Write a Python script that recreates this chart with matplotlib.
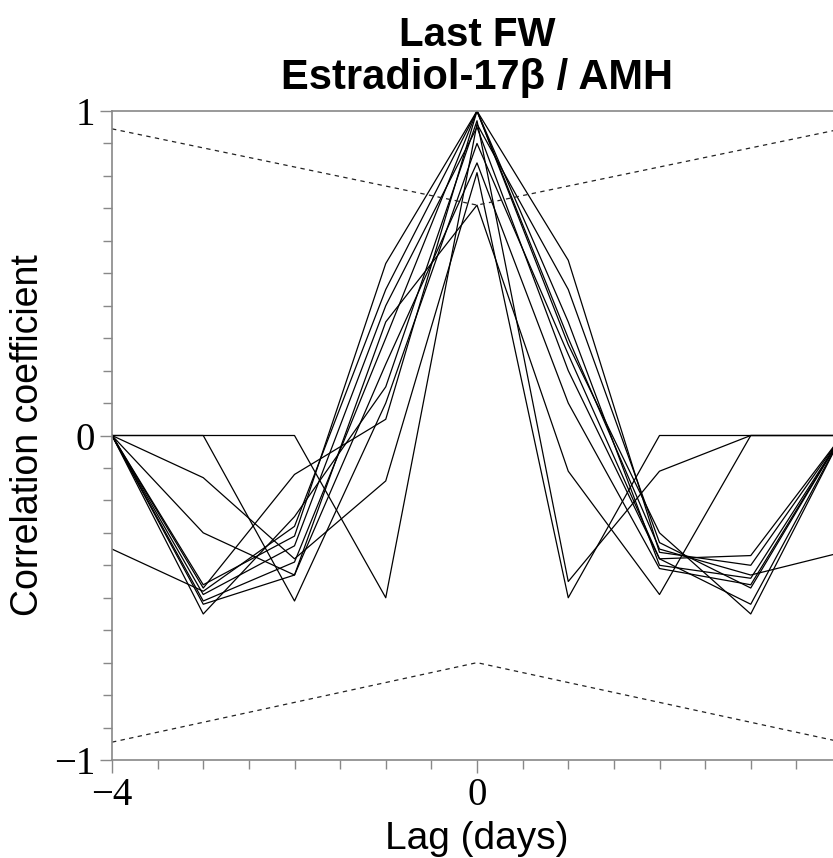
import numpy as np
import matplotlib.pyplot as plt
from matplotlib.ticker import MultipleLocator

plt.switch_backend('Agg')

# lags (days) and cross-correlation series (one line per animal)
lags = [-4, -3, -2, -1, 0, 1, 2, 3, 4]

s1 = [0.00, 0.00, 0.00, -0.50, 0.96, 0.45, -0.33, -0.47, 0.00]
s2 = [0.00, 0.00, -0.51, 0.10, 0.90, 0.25, -0.38, -0.52, 0.00]
s3 = [0.00, -0.13, -0.38, -0.14, 0.81, -0.50, 0.00, 0.00, 0.00]
s4 = [0.00, -0.30, -0.43, 0.35, 0.71, -0.11, -0.49, 0.00, 0.00]
s5 = [-0.35, -0.48, -0.28, 0.45, 1.00, 0.30, -0.35, -0.43, -0.36]
s6 = [0.00, -0.46, -0.31, 0.53, 1.00, 0.54, -0.36, -0.40, 0.00]
s7 = [0.00, -0.49, -0.34, 0.40, 0.95, 0.20, -0.38, -0.37, 0.00]
s8 = [0.00, -0.51, -0.39, 0.30, 1.00, 0.35, -0.40, -0.44, 0.00]
s9 = [0.00, -0.52, -0.43, 0.22, 0.84, 0.10, -0.41, -0.46, 0.00]
s10 = [0.00, -0.55, -0.25, 0.15, 0.97, -0.45, -0.11, 0.00, 0.00]
s11 = [0.00, -0.47, -0.12, 0.05, 1.00, 0.28, -0.30, -0.55, 0.00]
series = [s1, s2, s3, s4, s5, s6, s7, s8, s9, s10, s11]

# significance bounds (dashed)
bound_lags = [-4, 0, 4]
upper = [0.945, 0.71, 0.945]
lower = [-0.945, -0.70, -0.945]

fig = plt.figure(figsize=(8.33, 8.58), dpi=100)
ax = fig.add_axes([112 / 833, 98 / 858, 730 / 833, 649 / 858])

for s in series:
    ax.plot(lags, s, color='black', linewidth=0.9)

ax.plot(bound_lags, upper, color='#222222', linewidth=0.9, linestyle=(0, (3.5, 3.5)))
ax.plot(bound_lags, lower, color='#222222', linewidth=0.9, linestyle=(0, (3.5, 3.5)))

ax.set_xlim(-4, 4)
ax.set_ylim(-1, 1)

# ticks: labelled majors, small minors, all pointing out
ax.xaxis.set_major_locator(MultipleLocator(4))
ax.xaxis.set_minor_locator(MultipleLocator(0.5))
ax.yaxis.set_major_locator(MultipleLocator(1))
ax.yaxis.set_minor_locator(MultipleLocator(0.1))
ax.tick_params(which='major', direction='out', length=9, width=1, color='#888888',
               labelsize=28, pad=3)
ax.tick_params(which='minor', direction='out', length=6.5, width=1, color='#888888')
for lab in ax.get_xticklabels() + ax.get_yticklabels():
    lab.set_family('Liberation Serif')

for side in ['left', 'bottom', 'top', 'right']:
    ax.spines[side].set_color('#888888')
    ax.spines[side].set_linewidth(1.2)

ax.set_xlabel('Lag (days)', fontsize=28, family='Liberation Sans', labelpad=5)
ax.set_ylabel('Correlation coefficient', fontsize=27, family='Liberation Sans', labelpad=6)

# two-line bold title
fig.text(477 / 833, 1 - 35 / 858, 'Last FW', ha='center', va='center',
         fontsize=29, fontweight='bold', family='Liberation Sans')
fig.text(477 / 833, 1 - 78 / 858, 'Estradiol-17β / AMH', ha='center', va='center',
         fontsize=30, fontweight='bold', family='Liberation Sans')

fig.savefig('out.png', dpi=100)
